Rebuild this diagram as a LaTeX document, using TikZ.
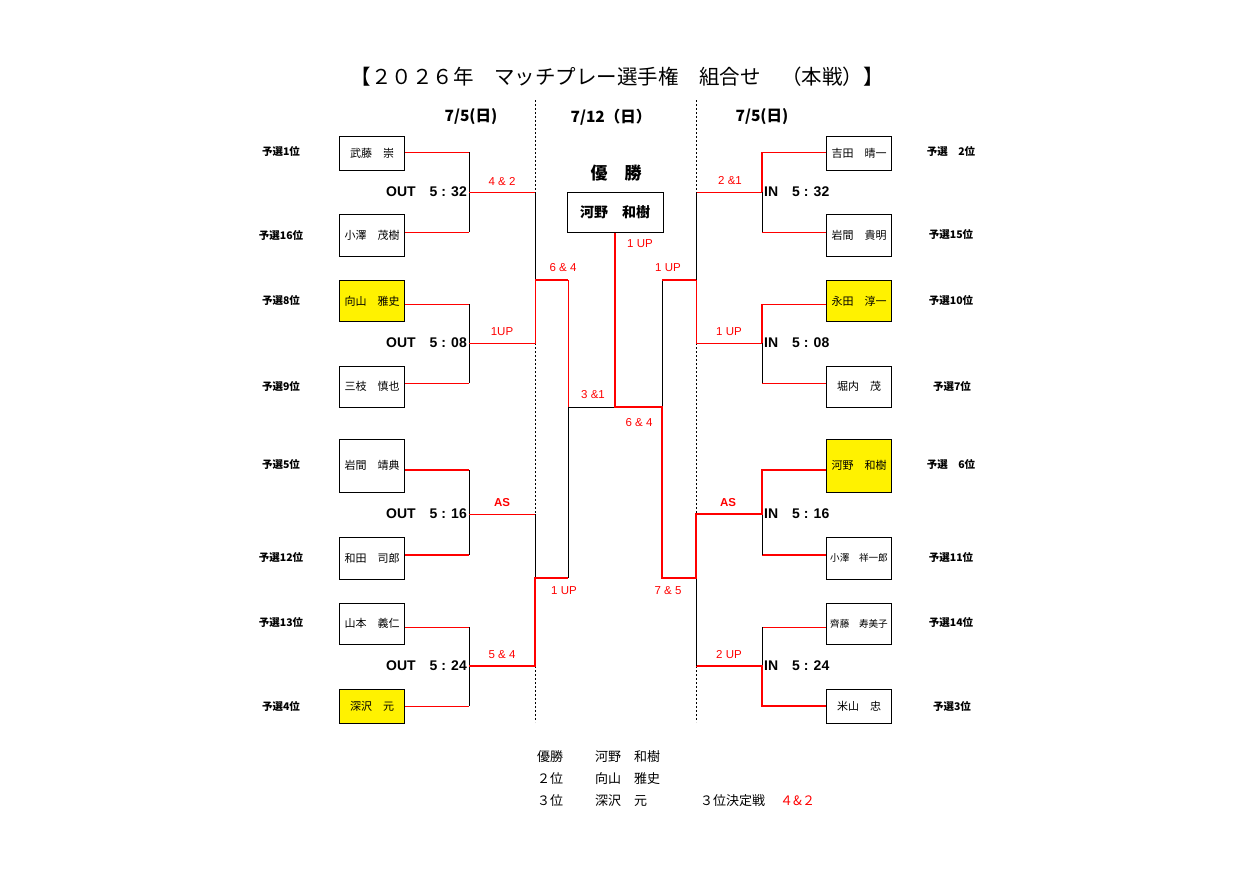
\documentclass[tikz,border=0pt]{standalone}
\usepackage{fontspec}
\setmainfont{Noto Sans CJK JP}
\newfontfamily\ar{Liberation Sans}
\begin{document}
\begin{tikzpicture}[x=1pt,y=-1pt,
  rl/.style={red,line width=1pt},
  rk/.style={red,line width=2.5pt,line join=miter},
  bl/.style={black,line width=1pt},
  dsh/.style={black,line width=0.8pt,dash pattern=on 2pt off 2pt},
  namebox/.style={draw,line width=1pt,minimum width=65pt,inner sep=0pt,font=\fontsize{11}{13}\selectfont},
  smallname/.style={font=\fontsize{9.6}{11}\selectfont},
  yel/.style={fill=yellow},
  rank/.style={inner sep=0pt,font=\fontsize{10.5}{12}\selectfont\bfseries},
  score/.style={inner sep=0pt,text=red,font=\ar\fontsize{11.5}{13}\selectfont},
  time/.style={inner sep=0pt,font=\ar\fontsize{14}{16}\selectfont\bfseries},
  date/.style={inner sep=0pt,font=\fontsize{15.5}{18}\selectfont\bfseries},
  res/.style={inner sep=0pt,anchor=west,font=\fontsize{13}{15}\selectfont}]
\useasboundingbox (0,0) rectangle (1243,878);

% title and dates
\node[inner sep=0pt,font=\fontsize{20.5}{24}\selectfont] (title) at (617,77) {【２０２６年　マッチプレー選手権　組合せ　（本戦）】};
\node[date] (d1) at (471,117) {7/5(日)};
\node[date] (d2) at (611,117) {7/12（日）};
\node[date] (d3) at (762,117) {7/5(日)};

% left boxes
\node[namebox,minimum height=34pt] (L1) at (372,153) {武藤　崇};
\node[namebox,minimum height=42pt] (L2) at (372,235) {小澤　茂樹};
\node[namebox,yel,minimum height=41pt] (L3) at (372,301) {向山　雅史};
\node[namebox,minimum height=41pt] (L4) at (372,386.5) {三枝　慎也};
\node[namebox,minimum height=53pt] (L5) at (372,465.5) {岩間　靖典};
\node[namebox,minimum height=42pt] (L6) at (372,558) {和田　司郎};
\node[namebox,minimum height=41pt] (L7) at (372,623.5) {山本　義仁};
\node[namebox,yel,minimum height=34pt] (L8) at (372,706.5) {深沢　元};

% right boxes
\node[namebox,minimum height=34pt] (R1) at (859,153) {吉田　晴一};
\node[namebox,minimum height=42pt] (R2) at (859,235) {岩間　貴明};
\node[namebox,yel,minimum height=41pt] (R3) at (859,301) {永田　淳一};
\node[namebox,minimum height=41pt] (R4) at (859,386.5) {堀内　茂};
\node[namebox,yel,minimum height=53pt] (R5) at (859,465.5) {河野　和樹};
\node[namebox,smallname,minimum height=42pt] (R6) at (859,558) {小澤　祥一郎};
\node[namebox,smallname,minimum height=41pt] (R7) at (859,623.5) {齊藤　寿美子};
\node[namebox,minimum height=34pt] (R8) at (859,706.5) {米山　忠};

% champion
\node[inner sep=0pt,font=\fontsize{17}{20}\selectfont\bfseries] (win) at (616,173) {優　勝};
\node[draw,line width=1pt,minimum width=96pt,minimum height=39.5pt,inner sep=0pt,font=\fontsize{14}{16}\selectfont\bfseries] (C) at (615,212.5) {河野　和樹};

% rank labels left
\node[rank] (rl1) at (281,152) {予選1位};
\node[rank] (rl2) at (281,236) {予選16位};
\node[rank] (rl3) at (281,300.5) {予選8位};
\node[rank] (rl4) at (281,386.5) {予選9位};
\node[rank] (rl5) at (281,465) {予選5位};
\node[rank] (rl6) at (281,558) {予選12位};
\node[rank] (rl7) at (281,623) {予選13位};
\node[rank] (rl8) at (281,706.5) {予選4位};
% rank labels right
\node[rank] (rr1) at (951,152) {予選　2位};
\node[rank] (rr2) at (951,235) {予選15位};
\node[rank] (rr3) at (951,300.5) {予選10位};
\node[rank] (rr4) at (952,386.5) {予選7位};
\node[rank] (rr5) at (951,465) {予選　6位};
\node[rank] (rr6) at (951,558) {予選11位};
\node[rank] (rr7) at (951,623) {予選14位};
\node[rank] (rr8) at (952,706.5) {予選3位};

% junction coordinates
\foreach \n/\x in {a/469,b/535,c/568,e/615,f/662,g/696,h/762}{
  \foreach \m/\y in {1/152,2/192,3/232,4/280,5/304,6/343,7/383,8/407,9/470,10/514,11/555,12/578,13/627,14/666,15/706,16/100,17/722}{
    \coordinate (\n\m) at (\x,\y);
  }
}

% dashed column lines
\draw[dsh] (b16) -- (b2);
\draw[dsh] (b6) -- (b10);
\draw[dsh] (b14) -- (b17);
\draw[dsh] (g16) -- (g2);
\draw[dsh] (g6) -- (g10);
\draw[dsh] (g14) -- (g17);

% left match 1
\draw[rl] (L1.east |- a1) -- (a1);
\draw[rl] (L2.east |- a3) -- (a3);
\draw[bl] (a1) -- (a3);
\draw[rl] (a2) -- (b2);
\draw[bl] (b2) -- (b4);
% left match 2
\draw[rl] (L3.east |- a5) -- (a5);
\draw[rl] (L4.east |- a7) -- (a7);
\draw[bl] (a5) -- (a7);
\draw[rl] (a6) -- (b6) -- (b4);
% left match 3
\draw[rk] (L5.east |- a9) -- (a9);
\draw[rk] (L6.east |- a11) -- (a11);
\draw[bl] (a9) -- (a11);
\draw[rl] (a10) -- (b10);
\draw[bl] (b10) -- (b12);
% left match 4
\draw[rl] (L7.east |- a13) -- (a13);
\draw[rl] (L8.east |- a15) -- (a15);
\draw[bl] (a13) -- (a15);
\draw[rk] (a14) -- (b14) -- (b12) -- (c12);
% left semi
\draw[rk] (b4) -- (c4);
\draw[rl] (c4) -- (c8);
\draw[bl] (c8) -- (c12);
\draw[bl] (c8) -- (e8);

% right side
\draw[rl] (h1) -- (R1.west |- h1);
\draw[rl] (h3) -- (R2.west |- h3);
\draw[rk] (h1) -- (h2);
\draw[bl] (h2) -- (h3);
\draw[rl] (g2) -- (h2);
\draw[bl] (g2) -- (g4);

\draw[rl] (h5) -- (R3.west |- h5);
\draw[rl] (h7) -- (R4.west |- h7);
\draw[rk] (h5) -- (h6);
\draw[bl] (h6) -- (h7);
\draw[rl] (h6) -- (g6) -- (g4);

\draw[rk] (h11) -- (R6.west |- h11);
\draw[bl] (h10) -- (h11);

\draw[rl] (h13) -- (R7.west |- h13);
\draw[bl] (h13) -- (h14);
\draw[rk] (g14) -- (h14) -- (h15) -- (R8.west |- h15);
\draw[bl] (g12) -- (g14);

% final path (champion)
\draw[bl] (f4) -- (f8);
\draw[rk] (g4) -- (f4);
\draw[rk] (C.south) -- (e8) -- (f8) -- (f12) -- (g12) -- (g10) -- (h10) -- (h9) -- (R5.west |- h9);

% scores
\node[score] (s1) at (502,181.5) {4 \& 2};
\node[score] (s2) at (502,331.5) {1UP};
\node[score,font=\ar\fontsize{11.5}{13}\selectfont\bfseries] (s3) at (502,503) {AS};
\node[score] (s4) at (502,655) {5 \& 4};
\node[score] (s5) at (563,267.5) {6 \& 4};
\node[score] (s6) at (564,590.5) {1 UP};
\node[score] (s7) at (593,395) {3 \&1};
\node[score] (s8) at (640,243.5) {1 UP};
\node[score] (s9) at (639,422.5) {6 \& 4};
\node[score] (s10) at (668,267.5) {1 UP};
\node[score] (s11) at (668,590.5) {7 \& 5};
\node[score] (s12) at (730,181) {2 \&1};
\node[score] (s13) at (729,331.5) {1 UP};
\node[score,font=\ar\fontsize{11.5}{13}\selectfont\bfseries] (s14) at (728,503) {AS};
\node[score] (s15) at (729,655) {2 UP};

% times
\node[time,anchor=east] (t1) at (467,192) {OUT\hspace{14pt}5 : 32};
\node[time,anchor=east] (t2) at (467,343) {OUT\hspace{14pt}5 : 08};
\node[time,anchor=east] (t3) at (467,514) {OUT\hspace{14pt}5 : 16};
\node[time,anchor=east] (t4) at (467,666) {OUT\hspace{14pt}5 : 24};
\node[time,anchor=west] (t5) at (764,192) {IN\hspace{14pt}5 : 32};
\node[time,anchor=west] (t6) at (764,343) {IN\hspace{14pt}5 : 08};
\node[time,anchor=west] (t7) at (764,514) {IN\hspace{14pt}5 : 16};
\node[time,anchor=west] (t8) at (764,666) {IN\hspace{14pt}5 : 24};

% results
\node[res] (r1a) at (537,757) {優勝};
\node[res] (r1b) at (595,757) {河野　和樹};
\node[res] (r2a) at (537,779) {２位};
\node[res] (r2b) at (595,779) {向山　雅史};
\node[res] (r3a) at (537,801) {３位};
\node[res] (r3b) at (595,801) {深沢　元};
\node[res] (r3c) at (700,801) {３位決定戦};
\node[res,text=red] (r3d) at (780,801) {４\&２};
\end{tikzpicture}
\end{document}
